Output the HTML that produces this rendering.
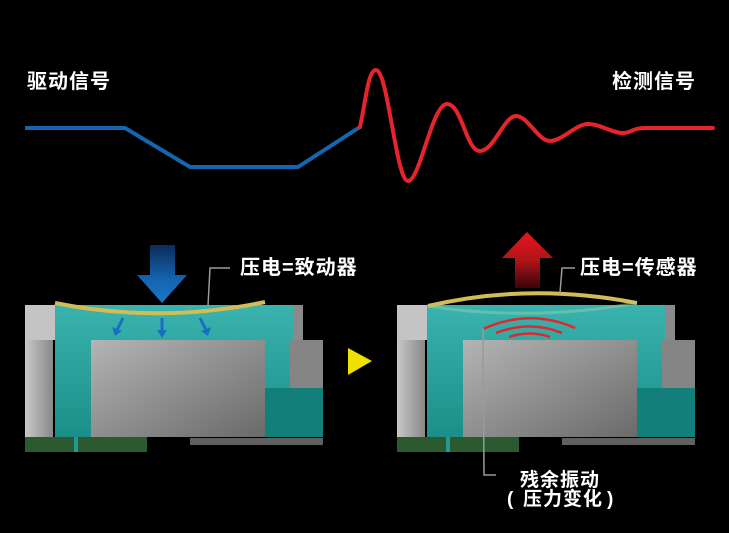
<!DOCTYPE html>
<html><head><meta charset="utf-8"><style>
html,body{margin:0;padding:0;background:#000;}
body{width:729px;height:533px;overflow:hidden;position:relative;}
svg{position:absolute;left:0;top:0;}
text{font-family:"Liberation Sans","Noto Sans CJK SC",sans-serif;font-weight:bold;fill:#fff;}
</style></head><body>
<svg width="729" height="533" viewBox="0 0 729 533" xmlns="http://www.w3.org/2000/svg">
<defs>
<linearGradient id="gray" x1="0" y1="0" x2="1" y2="1">
<stop offset="0" stop-color="#b4b4b4"/><stop offset="1" stop-color="#6a6a6a"/></linearGradient>
<linearGradient id="pil" x1="0" y1="0" x2="1" y2="0">
<stop offset="0" stop-color="#c8c8c8"/><stop offset="1" stop-color="#888"/></linearGradient>
<linearGradient id="teal" x1="0" y1="0" x2="0" y2="1">
<stop offset="0" stop-color="#3ab3ae"/><stop offset="1" stop-color="#1a8f88"/></linearGradient>
<linearGradient id="blueA" x1="0" y1="0" x2="0" y2="1">
<stop offset="0" stop-color="#0a2c5a"/><stop offset="0.6" stop-color="#1564b0"/><stop offset="1" stop-color="#1a78c8"/></linearGradient>
<linearGradient id="redA" x1="0" y1="1" x2="0" y2="0">
<stop offset="0" stop-color="#3a0508"/><stop offset="0.5" stop-color="#b0141a"/><stop offset="1" stop-color="#e8141c"/></linearGradient>
<g id="dev">
<rect x="55" y="305" width="240" height="132" fill="url(#teal)"/>
<rect x="25" y="305" width="30" height="35" fill="#c4c4c4"/>
<rect x="25" y="340" width="28" height="97" fill="url(#pil)"/>
<rect x="293" y="305" width="10" height="35" fill="#8a8a8a"/>
<rect x="290" y="340" width="33" height="48" fill="#858585"/>
<rect x="262" y="388" width="61" height="49" fill="#137f7a"/>
<rect x="91" y="340" width="174" height="97" fill="url(#gray)"/>
<rect x="25" y="437" width="122" height="15" fill="#2b5a30"/>
<rect x="74" y="437" width="4" height="15" fill="#1f9a94"/>
<rect x="190" y="438" width="133" height="7" fill="#606060"/>
</g>
</defs>
<polyline points="25,128 125,128 190,167 298,167 360,127" fill="none" stroke="#1566b0" stroke-width="4"/>
<path d="M360,127 C366,100 368,70 376,70 C388,70 396,181 408,181 C420,181 432,104 447,104 C462,104 466,151 480,151 C494,151 504,116 516,116 C528,116 538,141 550,141 C562,141 576,124 588,124 C600,124 612,133 623,133 C632,133 632,128 645,128 L713,128" fill="none" stroke="#e6242b" stroke-width="4" stroke-linecap="round"/>
<text x="27" y="88" font-size="20" letter-spacing="1">驱动信号</text>
<text x="612" y="88" font-size="20" letter-spacing="1">检测信号</text>
<use href="#dev"/>
<path d="M55,303 Q160,324 265,302" fill="none" stroke="#d2bc58" stroke-width="4"/>
<path d="M150,245 H175 V275 H187 L162,303 L137,275 H150 Z" fill="url(#blueA)"/>
<g stroke="#1a6fc0" stroke-width="3" fill="#1a6fc0">
<line x1="123" y1="318" x2="117" y2="330"/><polygon points="112,327 115,336 122,331" stroke="none"/>
<line x1="162" y1="318" x2="162" y2="331"/><polygon points="157,330 162,338 167,330" stroke="none"/>
<line x1="200" y1="318" x2="206" y2="330"/><polygon points="201,331 208,336 211,327" stroke="none"/>
</g>
<polyline points="208,306 210,268 230,268" fill="none" stroke="#9a9a9a" stroke-width="1.5"/>
<text x="240" y="274" font-size="20" letter-spacing="1">压电=致动器</text>
<polygon points="348,348 372,361 348,375" fill="#f0e000"/>
<use href="#dev" x="372"/>
<path d="M428,306 Q530,282 637,303" fill="none" stroke="#d2bc58" stroke-width="4"/>
<path d="M428,306 Q530,322 637,303" fill="none" stroke="#8fcfaa" stroke-width="3" opacity="0.5"/>
<path d="M515,288 V258 H502 L527,232 L553,258 H540 V288 Z" fill="url(#redA)"/>
<g fill="none" stroke="#e8242b" stroke-width="2.5">
<path d="M483,329 Q530,308 575,328"/>
<path d="M496,333 Q530,320 562,333"/>
<path d="M509,337 Q530,330 550,337"/>
</g>
<polyline points="483,328 484,475 496,475" fill="none" stroke="#9a9a9a" stroke-width="1.5"/>
<polyline points="575,268 562,268 560,293" fill="none" stroke="#9a9a9a" stroke-width="1.5"/>
<text x="580" y="274" font-size="20" letter-spacing="1">压电=传感器</text>
<text x="520" y="486" font-size="19" letter-spacing="1">残余振动</text>
<text x="507" y="505" font-size="19">(</text>
<text x="523" y="505" font-size="19" letter-spacing="1">压力变化</text>
<text x="607" y="505" font-size="19">)</text>
</svg>
</body></html>
